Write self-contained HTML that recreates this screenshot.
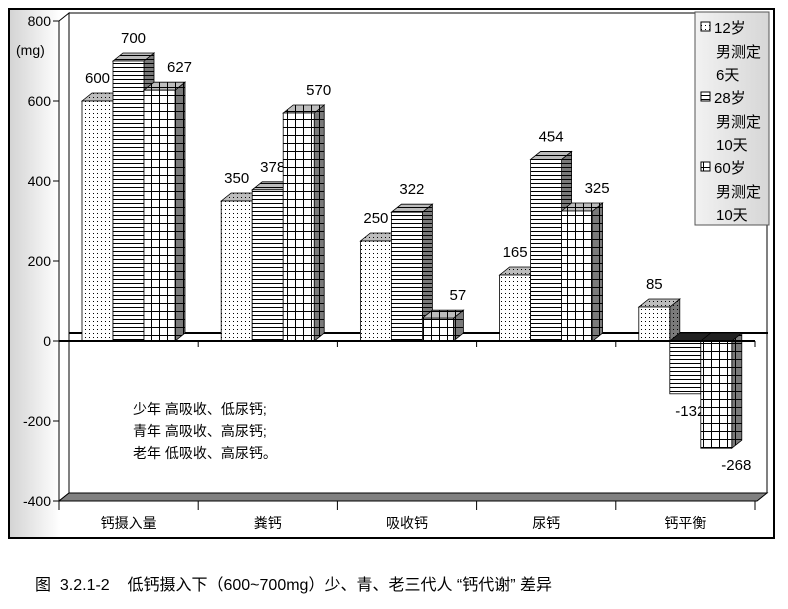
<!DOCTYPE html>
<html><head><meta charset="utf-8"><style>
body{margin:0;background:#fff;}
svg{display:block;font-family:"Liberation Sans","Noto Sans CJK SC",sans-serif;}
</style></head><body>
<svg width="788" height="609" viewBox="0 0 788 609">
<defs>
<linearGradient id="lg" x1="0" x2="1" y1="0" y2="0"><stop offset="0" stop-color="#d4d4d4"/><stop offset="1" stop-color="#ffffff"/></linearGradient>
<linearGradient id="legbg" x1="0" x2="1"><stop offset="0" stop-color="#f2f2f2"/><stop offset="1" stop-color="#d6d6d6"/></linearGradient>
<pattern id="p0" width="4" height="4" patternUnits="userSpaceOnUse"><rect width="4" height="4" fill="#fff"/><rect x="1" y="1" width="1" height="1" fill="#000"/></pattern>
<pattern id="p0g" width="4" height="4" patternUnits="userSpaceOnUse"><rect width="4" height="4" fill="#bdbdbd"/><rect x="1" y="1" width="1" height="1" fill="#000"/></pattern>
<pattern id="p0d" width="4" height="4" patternUnits="userSpaceOnUse"><rect width="4" height="4" fill="#7a7a7a"/><rect x="1" y="1" width="1" height="1" fill="#000"/></pattern>
<pattern id="p1" width="4" height="4" patternUnits="userSpaceOnUse"><rect width="4" height="4" fill="#fff"/><rect y="3" width="4" height="1" fill="#000"/></pattern>
<pattern id="p1g" width="4" height="4" patternUnits="userSpaceOnUse"><rect width="4" height="4" fill="#bdbdbd"/><rect y="3" width="4" height="1" fill="#000"/></pattern>
<pattern id="p1d" width="4" height="4" patternUnits="userSpaceOnUse"><rect width="4" height="4" fill="#7a7a7a"/><rect y="3" width="4" height="1" fill="#000"/></pattern>
<pattern id="p2" width="8" height="8" patternUnits="userSpaceOnUse"><rect width="8" height="8" fill="#fff"/><rect y="7" width="8" height="1" fill="#000"/><rect x="7" width="1" height="8" fill="#000"/></pattern>
<pattern id="p2g" width="8" height="8" patternUnits="userSpaceOnUse"><rect width="8" height="8" fill="#bdbdbd"/><rect y="7" width="8" height="1" fill="#000"/><rect x="7" width="1" height="8" fill="#000"/></pattern>
<pattern id="p2d" width="8" height="8" patternUnits="userSpaceOnUse"><rect width="8" height="8" fill="#7a7a7a"/><rect y="7" width="8" height="1" fill="#000"/><rect x="7" width="1" height="8" fill="#000"/></pattern>
</defs>
<rect x="9" y="9" width="765" height="529" fill="#fff" stroke="#000" stroke-width="2"/>
<rect x="10" y="10" width="50" height="527" fill="url(#lg)"/>
<g id="frame">
<rect x="69" y="13" width="698" height="480" fill="#fff" stroke="#000" stroke-width="1"/>
<polygon points="59,21 69,13 69,493 59,501" fill="#fff" stroke="#000"/>
<polygon points="59,501 69,493 767,493 757,501" fill="#808080" stroke="#000"/>
<line x1="69" y1="333" x2="768" y2="333" stroke="#000" stroke-width="2"/>
</g>
<g id="bars"></g>
<g id="axes"></g>
<text x="16" y="55" font-size="14">(mg)</text>
<g font-size="14">
<text x="133" y="414">少年 高吸收、低尿钙;</text>
<text x="133" y="436">青年 高吸收、高尿钙;</text>
<text x="133" y="458">老年 低吸收、高尿钙。</text>
</g>
<g>
<rect x="695" y="12" width="74" height="213" fill="url(#legbg)" stroke="#555"/>
<g font-size="15">
<rect x="701" y="22" width="9" height="9" fill="url(#p0)" stroke="#000"/>
<text x="714" y="33">12岁</text><text x="716" y="57">男测定</text><text x="716" y="80">6天</text>
<rect x="701" y="92" width="9" height="9" fill="url(#p1)" stroke="#000"/>
<text x="714" y="103">28岁</text><text x="716" y="127">男测定</text><text x="716" y="150">10天</text>
<rect x="701" y="162" width="9" height="9" fill="url(#p2)" stroke="#000"/>
<text x="714" y="173">60岁</text><text x="716" y="197">男测定</text><text x="716" y="220">10天</text>
</g></g>
<text x="35" y="590" font-size="16" style="white-space:pre">图  3.2.1-2    低钙摄入下（600~700mg）少、青、老三代人 “钙代谢” 差异</text>
</svg>
<script>
const categories=["钙摄入量","粪钙","吸收钙","尿钙","钙平衡"];
const s12=[600,350,250,165,85];
const s28=[700,378,322,454,-132];
const s60=[627,570,57,325,-268];
const yTicks=[800,600,400,200,0,-200,-400];
const NS="http://www.w3.org/2000/svg";
const X0=59,CW=139.2,BW=31,DX=10,DY=8;
const y=v=>341-v*0.4;
const bx=(c,s)=>X0+c*CW+23+s*BW;
function mk(t,a,p){const e=document.createElementNS(NS,t);for(const k in a)e.setAttribute(k,a[k]);p.appendChild(e);return e;}
const bars=document.getElementById('bars'),axes=document.getElementById('axes');
const series=[s12,s28,s60],lblOff=[0,5,20];
for(let c=0;c<categories.length;c++){for(let s=0;s<3;s++){
 const v=series[s][c],x=bx(c,s),yt=y(Math.max(v,0)),yb=y(Math.min(v,0));
 const g=mk('g',{},bars);
 
 
 mk('polygon',{points:`${x+BW},${yt} ${x+BW+DX},${yt-DY} ${x+BW+DX},${yb-DY} ${x+BW},${yb}`,fill:`url(#p${s}d)`,stroke:'#000','stroke-width':0.8},g);
 mk('polygon',{points:`${x},${yt} ${x+DX},${yt-DY} ${x+BW+DX},${yt-DY} ${x+BW},${yt}`,fill:v<0?'#222':`url(#p${s}g)`,stroke:'#000','stroke-width':0.8},g);
 mk('rect',{x:x,y:yt,width:BW,height:yb-yt,fill:`url(#p${s})`,stroke:'#000','stroke-width':0.8},g);
 const t=mk('text',{x:x+BW/2+lblOff[s],y:v>=0?yt-18:yb+22,'font-size':15,'text-anchor':'middle'},bars);
 
 
 t.textContent=v;
}}
mk('line',{x1:59,y1:21,x2:59,y2:501,stroke:'#000'},axes);
mk('line',{x1:59,y1:341,x2:755,y2:341,stroke:'#000','stroke-width':2},axes);
mk('line',{x1:59,y1:501,x2:757,y2:501,stroke:'#000'},axes);
yTicks.forEach(v=>{mk('line',{x1:53,y1:y(v),x2:59,y2:y(v),stroke:'#000'},axes);
 const t=mk('text',{x:51,y:y(v)+5,'font-size':14,'text-anchor':'end'},axes);
 
 
 t.textContent=v;});
for(let i=0;i<=categories.length;i++){const x=X0+i*CW;
 mk('line',{x1:x,y1:341,x2:x,y2:347,stroke:'#000'},axes);
 mk('line',{x1:x,y1:501,x2:x,y2:510,stroke:'#000'},axes);}
categories.forEach((c,i)=>{const t=mk('text',{x:X0+(i+0.5)*CW,y:528,'font-size':14,'text-anchor':'middle'},axes);
 
 
 t.textContent=c;});
</script>
</body></html>
